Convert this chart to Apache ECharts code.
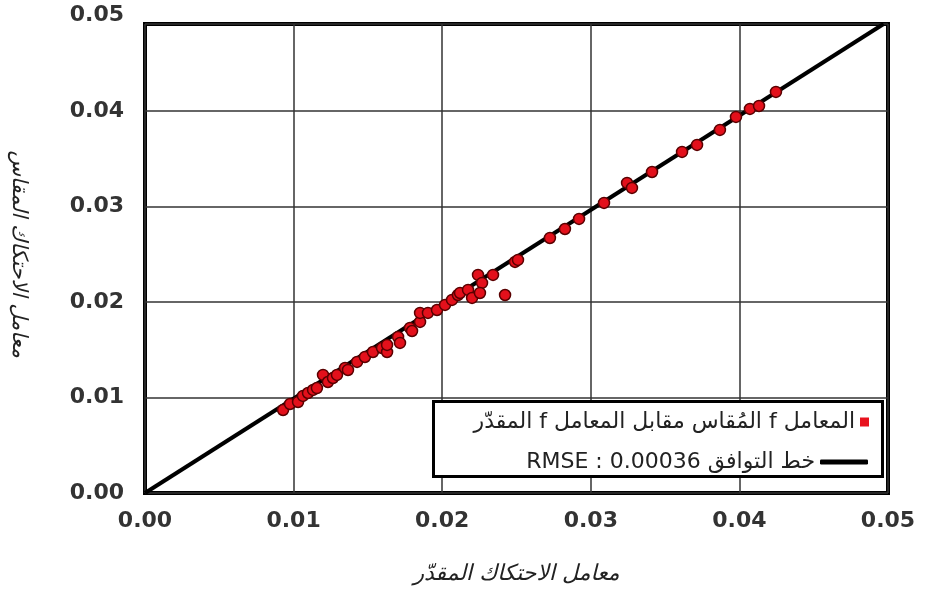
<!DOCTYPE html>
<html>
<head>
<meta charset="utf-8">
<script src="https://cdn.jsdelivr.net/npm/echarts@6/dist/echarts.min.js"></script>
<style>
  html, body { margin: 0; padding: 0; background: #fff; }
  #chart { width: 925px; height: 590px; }
</style>
</head>
<body>
<div id="chart"></div>
<script>
// Estimated friction factor (x) and measured friction factor (y)
const estimatedF = [
  0.00929, 0.00976, 0.01030, 0.01063, 0.01097, 0.01131, 0.01157, 0.01198, 0.01231, 0.01265,
  0.01292, 0.01346, 0.01366, 0.01427, 0.01480, 0.01534, 0.01595, 0.01629, 0.01629, 0.01703,
  0.01716, 0.01783, 0.01797, 0.01851, 0.01851, 0.01904, 0.01965, 0.02019, 0.02066, 0.02106,
  0.02120, 0.02174, 0.02201, 0.02241, 0.02268, 0.02254, 0.02342, 0.02423, 0.02490, 0.02510,
  0.02725, 0.02826, 0.02921, 0.03089, 0.03244, 0.03277, 0.03412, 0.03614, 0.03715, 0.03869,
  0.03977, 0.04071, 0.04132, 0.04246
];
const measuredF = [
  0.00869, 0.00932, 0.00953, 0.01016, 0.01047, 0.01079, 0.01099, 0.01236, 0.01162, 0.01204,
  0.01236, 0.01309, 0.01288, 0.01372, 0.01424, 0.01476, 0.01518, 0.01476, 0.01550, 0.01634,
  0.01571, 0.01728, 0.01696, 0.01791, 0.01885, 0.01885, 0.01916, 0.01969, 0.02021, 0.02073,
  0.02094, 0.02126, 0.02042, 0.02283, 0.02199, 0.02094, 0.02283, 0.02073, 0.02419, 0.02440,
  0.02670, 0.02764, 0.02869, 0.03037, 0.03246, 0.03194, 0.03361, 0.03571, 0.03644, 0.03801,
  0.03937, 0.04021, 0.04052, 0.04199
];
// Agreement line end points
const fitLineX = [0, 0.0497];
const fitLineY = [0, 0.0491];

// Tick labels
const xTickLabels = ['0.00', '0.01', '0.02', '0.03', '0.04', '0.05'];
const yTickLabels = ['0.00', '0.01', '0.02', '0.03', '0.04', '0.05'];

// Texts (wrapped in RTL embedding so mixed Arabic / Latin reads correctly)
const RLE = '\u202B', PDF = '\u202C';
const scatterName = RLE + 'المعامل f المُقاس مقابل المعامل f المقدّر' + PDF;
const lineName = RLE + 'خط التوافق RMSE : 0.00036' + PDF;
const xTitle = 'معامل الاحتكاك المقدّر';
const yTitle = 'معامل الاحتكاك المقاس';

const scatterData = estimatedF.map((x, i) => [x, measuredF[i]]);
const lineData = fitLineX.map((x, i) => [x, fitLineY[i]]);

const tickFont = {
  color: '#333', fontSize: 22, fontWeight: 'bold', fontFamily: 'DejaVu Sans'
};
const legendFont = { fontSize: 22, color: '#222', fontFamily: 'DejaVu Sans' };
const titleFont = { fontSize: 22, fontStyle: 'italic', color: '#222', fontFamily: 'DejaVu Sans' };

const chart = echarts.init(document.getElementById('chart'), null, { renderer: 'canvas' });

chart.setOption({
  backgroundColor: '#fff',
  animation: false,
  grid: [
    // plotting area
    { left: 145, right: 37, top: 24, bottom: 97, show: true,
      borderColor: '#000', borderWidth: 4, backgroundColor: 'transparent' },
    // frame for the vertical tick labels (same scale, extends to 0.05)
    { left: 145, right: 37, top: 15.5, bottom: 97, show: false }
  ],
  xAxis: [
    {
      gridIndex: 0, type: 'value', min: 0, max: 0.05, interval: 0.01,
      axisLine: { show: false }, axisTick: { show: false },
      splitLine: { show: true, lineStyle: { color: '#333', width: 1.5 } },
      axisLabel: Object.assign({ margin: 17, formatter: (v, i) => xTickLabels[i] }, tickFont),
      name: xTitle, nameLocation: 'middle', nameGap: 70,
      nameTextStyle: titleFont
    },
    {
      gridIndex: 1, type: 'value', min: 0, max: 0.05, show: false
    }
  ],
  yAxis: [
    {
      gridIndex: 0, type: 'value', min: 0, max: 0.0491, interval: 0.01,
      axisLine: { show: false }, axisTick: { show: false }, axisLabel: { show: false },
      splitLine: { show: true, lineStyle: { color: '#333', width: 1.5 } }
    },
    {
      gridIndex: 1, type: 'value', min: 0, max: 0.05, interval: 0.01,
      axisLine: { show: false }, axisTick: { show: false }, splitLine: { show: false },
      axisLabel: Object.assign({ margin: 27, formatter: (v, i) => yTickLabels[i] }, tickFont),
      name: yTitle, nameLocation: 'middle', nameGap: 122, nameRotate: -90,
      nameTextStyle: Object.assign({}, titleFont, { fontSize: 21 })
    }
  ],
  legend: [
    {
      data: [{ name: scatterName, icon: 'rect', itemStyle: { borderWidth: 0, color: '#e8121e' } }],
      orient: 'vertical', align: 'right', right: 56, top: 411,
      itemWidth: 9, itemHeight: 9, itemGap: 10, padding: 0,
      textStyle: legendFont
    },
    {
      data: [{ name: lineName, icon: 'roundRect', itemStyle: { color: '#000', borderWidth: 0 } }],
      orient: 'vertical', align: 'right', right: 57, top: 451,
      itemWidth: 48, itemHeight: 5, itemGap: 10, padding: 0,
      textStyle: legendFont
    }
  ],
  graphic: [
    {
      type: 'rect', z: 3,
      shape: { x: 433.5, y: 401.5, width: 449, height: 75 },
      style: { fill: '#fff', stroke: '#000', lineWidth: 3 }
    }
  ],
  series: [
    {
      name: lineName, type: 'line', xAxisIndex: 0, yAxisIndex: 0,
      data: lineData, symbol: 'none', z: 2,
      lineStyle: { color: '#000', width: 4 },
      itemStyle: { color: '#000' }
    },
    {
      name: scatterName, type: 'scatter', xAxisIndex: 0, yAxisIndex: 0,
      data: scatterData, symbol: 'circle', symbolSize: 11, z: 3,
      itemStyle: { color: '#e3101b', borderColor: '#5a0000', borderWidth: 1.5, opacity: 1 }
    }
  ]
});
</script>
</body>
</html>
